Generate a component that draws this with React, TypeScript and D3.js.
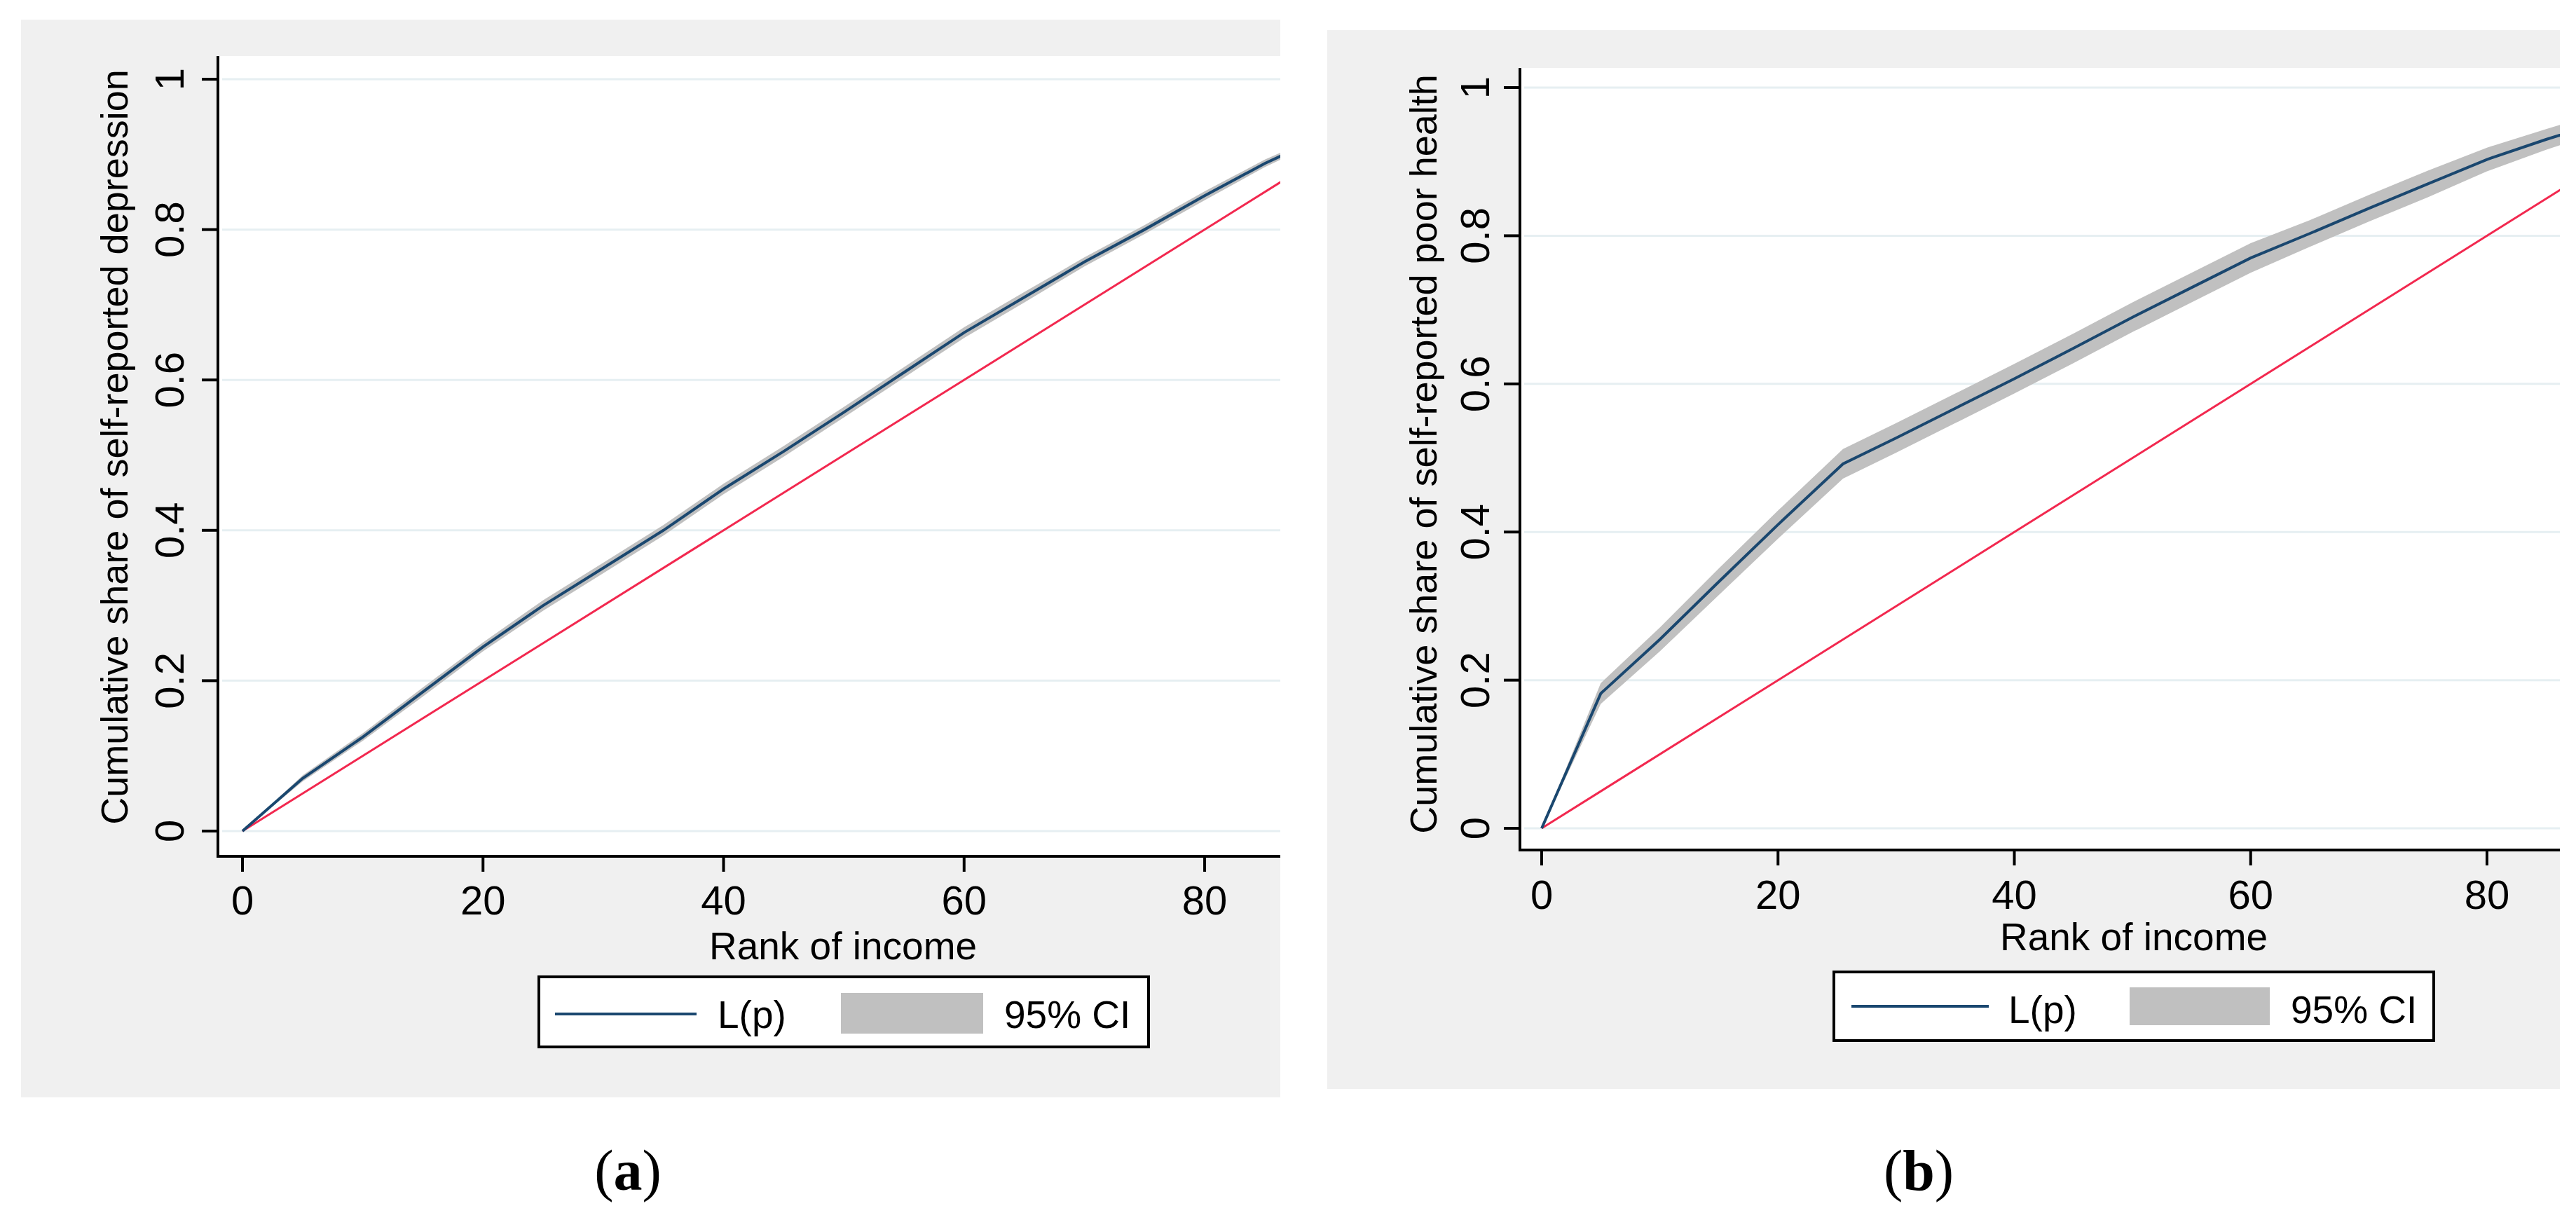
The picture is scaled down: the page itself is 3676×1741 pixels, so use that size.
import React, { useEffect, useRef } from "react";
import * as d3 from "d3";

// (a) concentration curve of self-reported depression
const rankA = [0, 5, 10, 15, 20, 25, 30, 35, 40, 45, 50, 55, 60, 65, 70, 75, 80, 85, 90];
const shareA = [0, 0.07, 0.125, 0.185, 0.245, 0.3, 0.35, 0.4, 0.455, 0.505, 0.557, 0.61, 0.663, 0.71, 0.757, 0.8, 0.845, 0.888, 0.925];
const lowA = [0, 0.066, 0.12, 0.179, 0.239, 0.293, 0.343, 0.393, 0.448, 0.498, 0.55, 0.603, 0.656, 0.703, 0.751, 0.794, 0.839, 0.883, 0.921];
const highA = [0, 0.074, 0.13, 0.191, 0.251, 0.307, 0.357, 0.407, 0.462, 0.512, 0.564, 0.617, 0.67, 0.717, 0.763, 0.806, 0.851, 0.893, 0.929];

// (b) concentration curve of self-reported poor health
const rankB = [0, 5, 10, 15, 20, 25.5, 30, 35, 40, 45, 50, 55, 60, 65, 70, 75, 80, 85, 90];
const shareB = [0, 0.182, 0.255, 0.333, 0.41, 0.492, 0.527, 0.567, 0.607, 0.648, 0.69, 0.73, 0.77, 0.803, 0.837, 0.87, 0.903, 0.93, 0.955];
const lowB = [0, 0.168, 0.239, 0.315, 0.391, 0.472, 0.507, 0.547, 0.587, 0.628, 0.67, 0.71, 0.75, 0.785, 0.819, 0.852, 0.887, 0.916, 0.942];
const highB = [0, 0.196, 0.271, 0.351, 0.429, 0.512, 0.547, 0.587, 0.627, 0.668, 0.71, 0.75, 0.79, 0.821, 0.855, 0.888, 0.919, 0.944, 0.968];

// line of equality
const equalRank = [0, 100];
const equalShare = [0, 1];

const xTicks = [0, 20, 40, 60, 80];
const yTicks = [0, 0.2, 0.4, 0.6, 0.8, 1];
const yTickLabels = ["0", "0.2", "0.4", "0.6", "0.8", "1"];
const xTitle = "Rank of income";
const legendLabels = ["L(p)", "95% CI"];

const panels = [
  {
    id: "a",
    rank: rankA, share: shareA, low: lowA, high: highA,
    yTitle: "Cumulative share of self-reported depression",
    caption: "a",
    bg: { x0: 30, y0: 28, x1: 1827, y1: 1566 },
    plot: { left: 311, right: 1827, top: 80, bottom: 1222 },
    xDomain: [-2.04, 86.29], yDomain: [-0.0336, 1.0308],
    yTitleX: 182, yTitleY: 638, yLabelX: 262, xLabelY: 1305,
    xTitleX: 1203, xTitleY: 1369,
    legend: { x0: 769, y0: 1394, x1: 1639, y1: 1494, lx0: 792, lx1: 994, ly: 1447, t1: 1024, sx0: 1200, sy0: 1417, sx1: 1403, sy1: 1475, t2: 1433, base: 1467 },
    capX: 896,
  },
  {
    id: "b",
    rank: rankB, share: shareB, low: lowB, high: highB,
    yTitle: "Cumulative share of self-reported poor health",
    caption: "b",
    bg: { x0: 1894, y0: 43, x1: 3653, y1: 1554 },
    plot: { left: 2169, right: 3653, top: 97, bottom: 1213 },
    xDomain: [-1.84, 86.17], yDomain: [-0.0293, 1.0265],
    yTitleX: 2050, yTitleY: 648, yLabelX: 2125, xLabelY: 1297,
    xTitleX: 3045, xTitleY: 1356,
    legend: { x0: 2617, y0: 1387, x1: 3473, y1: 1485, lx0: 2642, lx1: 2838, ly: 1436, t1: 2866, sx0: 3039, sy0: 1409, sx1: 3239, sy1: 1463, t2: 3269, base: 1460 },
    capX: 2738,
  },
];

const FONT = "'Liberation Sans', Arial, sans-serif";
const NAVY = "#1a476f";
const RED = "#f2284f";
const BAND = "#c0c0c0";

export default function App() {
  const svgRef = useRef<SVGSVGElement>(null);

  useEffect(() => {
    if (!svgRef.current) return;
    const svg = d3.select(svgRef.current);
    svg.selectAll("*").remove();

    panels.forEach((p) => {
      const g = svg.append("g");

      // outer graph region
      g.append("rect")
        .attr("x", p.bg.x0).attr("y", p.bg.y0)
        .attr("width", p.bg.x1 - p.bg.x0).attr("height", p.bg.y1 - p.bg.y0)
        .attr("fill", "#f0f0f0");

      g.append("rect")
        .attr("x", p.plot.left).attr("y", p.plot.top)
        .attr("width", p.plot.right - p.plot.left).attr("height", p.plot.bottom - p.plot.top)
        .attr("fill", "#fff");

      const x = d3.scaleLinear().domain(p.xDomain).range([p.plot.left, p.plot.right]);
      const y = d3.scaleLinear().domain(p.yDomain).range([p.plot.bottom, p.plot.top]);

      // grid
      g.append("g").selectAll("line").data(yTicks).join("line")
        .attr("x1", p.plot.left + 6).attr("x2", p.plot.right)
        .attr("y1", (d) => y(d)).attr("y2", (d) => y(d))
        .attr("stroke", "#e6eff2").attr("stroke-width", 3);

      const clipId = `clip-${p.id}`;
      g.append("clipPath").attr("id", clipId).append("rect")
        .attr("x", p.plot.left).attr("y", p.plot.top)
        .attr("width", p.plot.right - p.plot.left).attr("height", p.plot.bottom - p.plot.top);

      const marks = g.append("g").attr("clip-path", `url(#${clipId})`);
      const idx = d3.range(p.rank.length);

      const band = d3.area<number>()
        .x((i) => x(p.rank[i]))
        .y0((i) => y(p.low[i]))
        .y1((i) => y(p.high[i]));
      marks.append("path").datum(idx).attr("d", band).attr("fill", BAND);

      const eqLine = d3.line<number>().x((i) => x(equalRank[i])).y((i) => y(equalShare[i]));
      marks.append("path").datum(d3.range(equalRank.length)).attr("d", eqLine)
        .attr("fill", "none").attr("stroke", RED).attr("stroke-width", 3);

      const curve = d3.line<number>().x((i) => x(p.rank[i])).y((i) => y(p.share[i]));
      marks.append("path").datum(idx).attr("d", curve)
        .attr("fill", "none").attr("stroke", NAVY).attr("stroke-width", 4);

      // axes
      g.append("line")
        .attr("x1", p.plot.left).attr("x2", p.plot.left)
        .attr("y1", p.plot.top).attr("y2", p.plot.bottom + 2)
        .attr("stroke", "#000").attr("stroke-width", 4);
      g.append("line")
        .attr("x1", p.plot.left - 2).attr("x2", p.plot.right)
        .attr("y1", p.plot.bottom).attr("y2", p.plot.bottom)
        .attr("stroke", "#000").attr("stroke-width", 4);

      g.append("g").selectAll("line").data(yTicks).join("line")
        .attr("x1", p.plot.left - 23).attr("x2", p.plot.left)
        .attr("y1", (d) => y(d)).attr("y2", (d) => y(d))
        .attr("stroke", "#000").attr("stroke-width", 4);
      g.append("g").selectAll("line").data(xTicks).join("line")
        .attr("x1", (d) => x(d)).attr("x2", (d) => x(d))
        .attr("y1", p.plot.bottom).attr("y2", p.plot.bottom + 22)
        .attr("stroke", "#000").attr("stroke-width", 4);

      g.append("g").selectAll("text").data(yTicks).join("text")
        .attr("transform", (d) => `translate(${p.yLabelX},${y(d)}) rotate(-90)`)
        .attr("text-anchor", "middle")
        .style("font-family", FONT).style("font-size", "58px").attr("fill", "#000")
        .text((_, i) => yTickLabels[i]);

      g.append("g").selectAll("text").data(xTicks).join("text")
        .attr("x", (d) => x(d)).attr("y", p.xLabelY)
        .attr("text-anchor", "middle")
        .style("font-family", FONT).style("font-size", "58px").attr("fill", "#000")
        .text((d) => String(d));

      g.append("text")
        .attr("transform", `translate(${p.yTitleX},${p.yTitleY}) rotate(-90)`)
        .attr("text-anchor", "middle")
        .style("font-family", FONT).style("font-size", "54px").attr("fill", "#000")
        .text(p.yTitle);

      g.append("text")
        .attr("x", p.xTitleX).attr("y", p.xTitleY).attr("text-anchor", "middle")
        .style("font-family", FONT).style("font-size", "55px").attr("fill", "#000")
        .text(xTitle);

      // legend
      const L = p.legend;
      g.append("rect")
        .attr("x", L.x0).attr("y", L.y0).attr("width", L.x1 - L.x0).attr("height", L.y1 - L.y0)
        .attr("fill", "#fff").attr("stroke", "#000").attr("stroke-width", 4);
      g.append("line")
        .attr("x1", L.lx0).attr("x2", L.lx1).attr("y1", L.ly).attr("y2", L.ly)
        .attr("stroke", NAVY).attr("stroke-width", 4);
      g.append("rect")
        .attr("x", L.sx0).attr("y", L.sy0).attr("width", L.sx1 - L.sx0).attr("height", L.sy1 - L.sy0)
        .attr("fill", BAND);
      [L.t1, L.t2].forEach((tx, i) => {
        g.append("text").attr("x", tx).attr("y", L.base)
          .style("font-family", FONT).style("font-size", "55px").attr("fill", "#000")
          .text(legendLabels[i]);
      });

      // panel caption
      const cap = g.append("text")
        .attr("x", p.capX).attr("y", 1698).attr("text-anchor", "middle")
        .style("font-family", "'Liberation Serif', 'Times New Roman', serif")
        .style("font-size", "82px").attr("fill", "#000");
      cap.append("tspan").text("(");
      cap.append("tspan").style("font-weight", "bold").text(p.caption);
      cap.append("tspan").text(")");
    });
  }, []);

  return (
    <div style={{ position: "absolute", left: 0, top: 0 }}>
      <svg ref={svgRef} width={3676} height={1741} style={{ display: "block", background: "#fff" }}></svg>
    </div>
  );
}
